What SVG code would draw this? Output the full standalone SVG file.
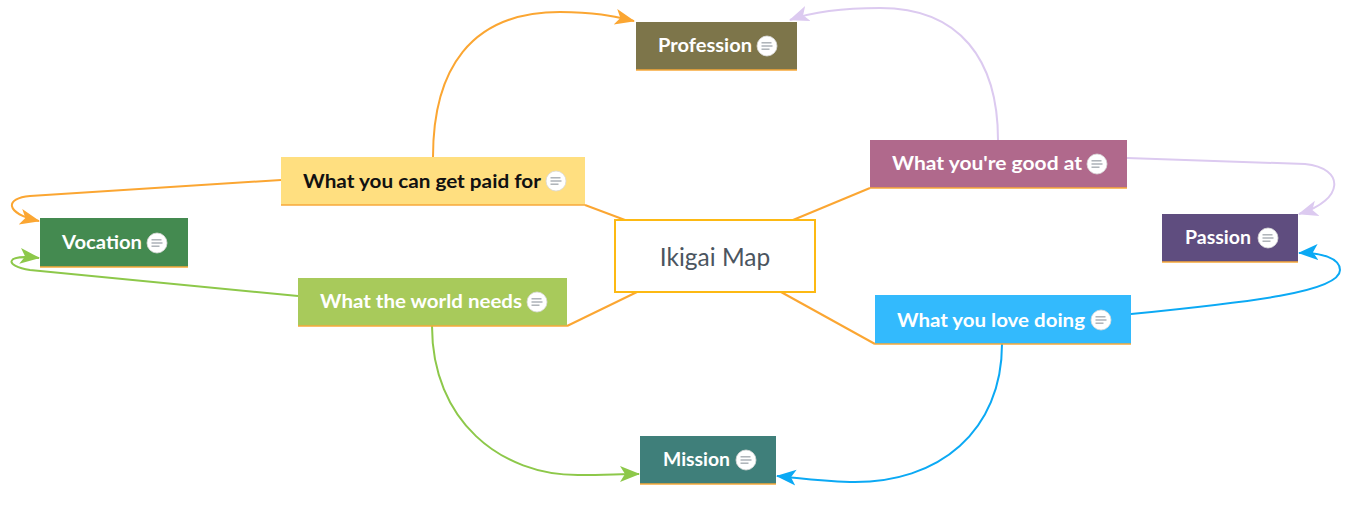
<svg xmlns="http://www.w3.org/2000/svg" width="1350" height="505" viewBox="0 0 1350 505">
<style>
.lbl{font-family:Lato,"Noto Sans","DejaVu Sans",sans-serif;font-size:19.5px;font-weight:bold;fill:#ffffff}
.dark{fill:#111111}
.ul{stroke:#F7A83A;stroke-width:1.5}
.c{fill:none;stroke-width:2}
.or{stroke:#FBA632}
.li{stroke:#DCCAF0}
.gr{stroke:#8DC84A}
.bl{stroke:#0BA9F4}
</style>
<defs>
<g id="note">
<circle r="10" fill="#ffffff" stroke="#d8d8d8" stroke-width="0.8"/>
<line x1="-5.5" y1="-3.2" x2="4.5" y2="-3.2" stroke="#a7adb3" stroke-width="1.4"/>
<line x1="-5.5" y1="0" x2="5.5" y2="0" stroke="#a7adb3" stroke-width="1.4"/>
<line x1="-5.5" y1="3.2" x2="2.5" y2="3.2" stroke="#a7adb3" stroke-width="1.4"/>
</g>
<marker id="aOr" markerWidth="22" markerHeight="18" refX="19" refY="9" orient="auto" markerUnits="userSpaceOnUse"><path d="M0,1 L20,9 L0,17 L5,9 Z" fill="#FBA632"/></marker>
<marker id="aLi" markerWidth="22" markerHeight="18" refX="19" refY="9" orient="auto" markerUnits="userSpaceOnUse"><path d="M0,1 L20,9 L0,17 L5,9 Z" fill="#DCCAF0"/></marker>
<marker id="aGr" markerWidth="22" markerHeight="18" refX="19" refY="9" orient="auto" markerUnits="userSpaceOnUse"><path d="M0,1 L20,9 L0,17 L5,9 Z" fill="#8DC84A"/></marker>
<marker id="aBl" markerWidth="22" markerHeight="18" refX="19" refY="9" orient="auto" markerUnits="userSpaceOnUse"><path d="M0,1 L20,9 L0,17 L5,9 Z" fill="#0BA9F4"/></marker>
</defs>
<rect width="1350" height="505" fill="#ffffff"/>
<g id="connectors">
<line class="c or" x1="585" y1="205" x2="625" y2="220"/>
<line class="c or" x1="870" y1="188" x2="793" y2="220"/>
<line class="c or" x1="567" y1="326" x2="637" y2="292"/>
<line class="c or" x1="875" y1="344" x2="781" y2="292"/>
<path class="c or" d="M433,157 C433,70 470,12 560,12 C595,12 612,16 634,21" marker-end="url(#aOr)"/>
<path class="c or" d="M281,180 L30,196 C5,198 4,213 39,221" marker-end="url(#aOr)"/>
<path class="c li" d="M998,140 C998,60 960,8 880,8 C840,8 812,12 790,20" marker-end="url(#aLi)"/>
<path class="c li" d="M1127,158 L1305,164 C1345,168 1345,200 1299,214" marker-end="url(#aLi)"/>
<path class="c gr" d="M298,296 L30,270 C4,266 4,254 39,258" marker-end="url(#aGr)"/>
<path class="c gr" d="M432,326 C432,420 500,476 580,475 C605,475 620,474 639,474" marker-end="url(#aGr)"/>
<path class="c bl" d="M1131,314 C1250,302 1340,292 1340,270 C1340,258 1320,252 1299,253" marker-end="url(#aBl)"/>
<path class="c bl" d="M1002,344 C1002,430 940,484 850,482 C815,481 800,478 777,476" marker-end="url(#aBl)"/>
</g>
<g id="center">
<rect x="615" y="220" width="200" height="72" fill="#ffffff" stroke="#FDB913" stroke-width="2"/>
<text x="715" y="266" text-anchor="middle" font-family="Lato,'Noto Sans',sans-serif" font-size="24.5" fill="#4b5560">Ikigai Map</text>
</g>
<g id="profession">
<rect x="636" y="22" width="161" height="48" fill="#7D754A"/>
<line class="ul" x1="636" y1="70" x2="797" y2="70"/>
<text class="lbl" x="658" y="52" textLength="94" lengthAdjust="spacingAndGlyphs">Profession</text>
<use href="#note" x="767" y="46"/>
</g>
<g id="paid">
<rect x="281" y="157" width="304" height="48" fill="#FFDF80"/>
<line class="ul" x1="281" y1="205" x2="585" y2="205"/>
<text class="lbl dark" x="303" y="188" textLength="238" lengthAdjust="spacingAndGlyphs">What you can get paid for</text>
<use href="#note" x="556" y="181"/>
</g>
<g id="good">
<rect x="870" y="140" width="257" height="48" fill="#B0698C"/>
<line class="ul" x1="870" y1="188" x2="1127" y2="188"/>
<text class="lbl" x="892" y="170" textLength="190" lengthAdjust="spacingAndGlyphs">What you're good at</text>
<use href="#note" x="1097" y="164"/>
</g>
<g id="vocation">
<rect x="40" y="218" width="148" height="49" fill="#448A50"/>
<line class="ul" x1="40" y1="267" x2="188" y2="267"/>
<text class="lbl" x="62" y="249" textLength="80" lengthAdjust="spacingAndGlyphs">Vocation</text>
<use href="#note" x="157" y="243"/>
</g>
<g id="passion">
<rect x="1162" y="214" width="136" height="48" fill="#5F4D7F"/>
<line class="ul" x1="1162" y1="262" x2="1298" y2="262"/>
<text class="lbl" x="1185" y="244" textLength="66" lengthAdjust="spacingAndGlyphs">Passion</text>
<use href="#note" x="1268" y="238"/>
</g>
<g id="world">
<rect x="298" y="278" width="269" height="48" fill="#A8CA5B"/>
<line class="ul" x1="298" y1="326" x2="567" y2="326"/>
<text class="lbl" x="320" y="308" textLength="202" lengthAdjust="spacingAndGlyphs">What the world needs</text>
<use href="#note" x="537" y="302"/>
</g>
<g id="love">
<rect x="875" y="295" width="256" height="49" fill="#33BAFD"/>
<line class="ul" x1="875" y1="344" x2="1131" y2="344"/>
<text class="lbl" x="897" y="327" textLength="188" lengthAdjust="spacingAndGlyphs">What you love doing</text>
<use href="#note" x="1101" y="320"/>
</g>
<g id="mission">
<rect x="640" y="436" width="136" height="48" fill="#3F7F7A"/>
<line class="ul" x1="640" y1="484" x2="776" y2="484"/>
<text class="lbl" x="663" y="466" textLength="67" lengthAdjust="spacingAndGlyphs">Mission</text>
<use href="#note" x="746" y="460"/>
</g>
</svg>
